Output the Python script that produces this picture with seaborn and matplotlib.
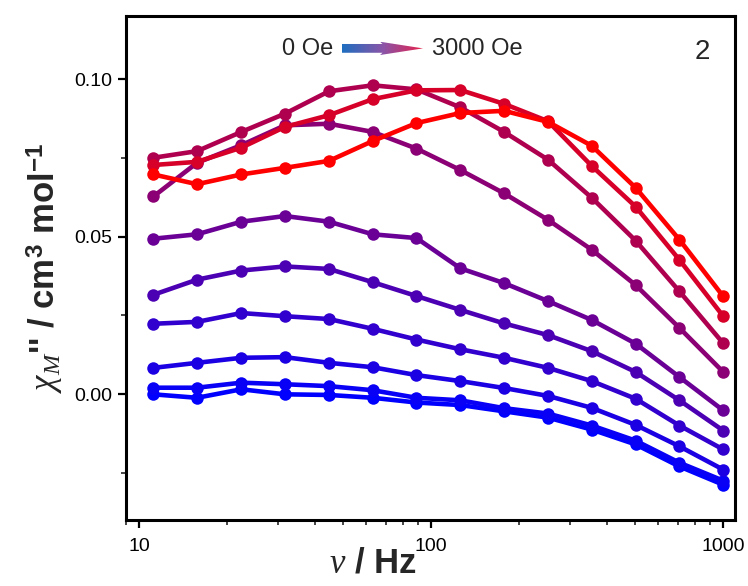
import matplotlib
matplotlib.use("Agg")
import matplotlib.pyplot as plt
from matplotlib.patches import Polygon
from matplotlib.ticker import FixedLocator, FormatStrFormatter, NullFormatter
import numpy as np
import pandas as pd
import seaborn as sns

# frequency points (Hz)
freq = [11.2, 15.8, 22.4, 31.6, 44.7, 63.1, 89.1, 125.9, 177.8, 251.2, 354.8, 501.2, 707.9, 1000.0]

# chi'' curves, lowest field (blue) to highest field (red)
chi_c01 = [-0.0001, -0.0012, 0.0015, -0.0001, -0.0003, -0.0012, -0.0027, -0.0035, -0.0055, -0.0075, -0.0113, -0.0160, -0.0230, -0.0288]
chi_c02 = [0.0020, 0.0020, 0.0036, 0.0031, 0.0025, 0.0012, -0.0012, -0.0020, -0.0045, -0.0062, -0.0100, -0.0148, -0.0218, -0.0275]
chi_c03 = [0.0083, 0.0099, 0.0115, 0.0117, 0.0099, 0.0085, 0.0060, 0.0041, 0.0019, -0.0006, -0.0044, -0.0098, -0.0166, -0.0240]
chi_c04 = [0.0223, 0.0229, 0.0257, 0.0247, 0.0238, 0.0207, 0.0173, 0.0142, 0.0115, 0.0083, 0.0041, -0.0015, -0.0100, -0.0176]
chi_c05 = [0.0315, 0.0363, 0.0392, 0.0405, 0.0397, 0.0355, 0.0311, 0.0267, 0.0224, 0.0187, 0.0136, 0.0070, -0.0020, -0.0116]
chi_c06 = [0.0493, 0.0507, 0.0547, 0.0565, 0.0547, 0.0507, 0.0495, 0.0399, 0.0352, 0.0295, 0.0235, 0.0160, 0.0054, -0.0052]
chi_c07 = [0.0627, 0.0734, 0.0790, 0.0853, 0.0858, 0.0832, 0.0779, 0.0711, 0.0637, 0.0553, 0.0458, 0.0346, 0.0210, 0.0070]
chi_c08 = [0.0750, 0.0771, 0.0832, 0.0890, 0.0961, 0.0980, 0.0967, 0.0910, 0.0832, 0.0744, 0.0623, 0.0487, 0.0326, 0.0161]
chi_c09 = [0.0727, 0.0737, 0.0782, 0.0848, 0.0885, 0.0936, 0.0964, 0.0965, 0.0921, 0.0866, 0.0724, 0.0595, 0.0426, 0.0247]
chi_c10 = [0.0697, 0.0666, 0.0697, 0.0718, 0.0740, 0.0803, 0.0860, 0.0892, 0.0899, 0.0864, 0.0788, 0.0655, 0.0490, 0.0310]

curves = [chi_c01, chi_c02, chi_c03, chi_c04, chi_c05, chi_c06, chi_c07, chi_c08, chi_c09, chi_c10]

y_ticks = [0.00, 0.05, 0.10]
x_ticks = [10, 100, 1000]

sns.set_style("ticks")
plt.rcParams["font.family"] = ["Liberation Sans", "DejaVu Sans"]
plt.rcParams["mathtext.fontset"] = "custom"
plt.rcParams["mathtext.rm"] = "Liberation Sans:bold"
plt.rcParams["mathtext.bf"] = "Liberation Sans:bold"
plt.rcParams["mathtext.it"] = "Liberation Serif:italic"

rows = []
for i, c in enumerate(curves):
    for f, v in zip(freq, c):
        rows.append({"curve": i, "freq": f, "chi": v})
df = pd.DataFrame(rows)

# blue -> purple -> red, weighted towards blue for the low fields
n = len(curves)
pal = [((i / (n - 1)) ** 1.5, 0.0, 1.0 - (i / (n - 1)) ** 1.5) for i in range(n)]

fig = plt.figure(figsize=(7.48, 5.86), dpi=100)
ax = fig.add_axes([0.168, 0.1126, 0.815, 0.8601])

sns.lineplot(data=df, x="freq", y="chi", hue="curve", palette=pal, ax=ax,
             marker="o", markersize=9, markeredgewidth=0, linewidth=3.3,
             legend=False)

ax.set_xscale("log")
ax.set_xlim(9, 1100)
ax.set_ylim(-0.04, 0.12)

ax.yaxis.set_major_locator(FixedLocator(y_ticks))
ax.yaxis.set_minor_locator(FixedLocator([-0.025, 0.025, 0.075]))
ax.yaxis.set_major_formatter(FormatStrFormatter("%.2f"))
ax.xaxis.set_major_locator(FixedLocator(x_ticks))
ax.set_xticklabels([str(t) for t in x_ticks])
ax.xaxis.set_minor_formatter(NullFormatter())

ax.tick_params(axis="both", which="major", direction="out", length=6, width=1.6,
               labelsize=14, colors="black")
ax.tick_params(axis="x", which="major", pad=7)
ax.tick_params(axis="both", which="minor", direction="out", length=3.5, width=1.2)
for s in ax.spines.values():
    s.set_linewidth(2.2)
    s.set_color("black")

ax.set_xlabel(r"$\nu$ / Hz", fontsize=25, fontweight="bold")
ax.xaxis.set_label_coords(0.405, -0.052)
ax.set_ylabel(r"$\chi_{M}$'' / cm$^{3}$ mol$^{-1}$", fontsize=25, fontweight="bold", labelpad=6)

# field legend: 0 Oe -> 3000 Oe gradient arrow
fig.text(0.445, 0.9164, "0 Oe", ha="right", va="center", fontsize=17)
fig.text(0.5775, 0.9164, "3000 Oe", ha="left", va="center", fontsize=17)
fig.text(0.9385, 0.911, "2", ha="center", va="center", fontsize=20)

arr_ax = fig.add_axes([0.4572, 0.9061, 0.1083, 0.0227])
arr_ax.set_axis_off()
grad = sns.blend_palette(["#1e6ec0", "#8a55a8", "#e8204a"], n_colors=256)
img = np.array(grad)[np.newaxis, :, :]
im = arr_ax.imshow(img, extent=[0, 1, 0, 1], aspect="auto", interpolation="bilinear")
arrow = Polygon([(0, 0.17), (0.5, 0.17), (0.47, 0.0), (1.0, 0.5), (0.47, 1.0), (0.5, 0.83), (0, 0.83)],
                closed=True, transform=arr_ax.transData, facecolor="none", edgecolor="none")
arr_ax.add_patch(arrow)
im.set_clip_path(arrow)
arr_ax.set_xlim(0, 1)
arr_ax.set_ylim(0, 1)

fig.savefig("out.png", dpi=100)
